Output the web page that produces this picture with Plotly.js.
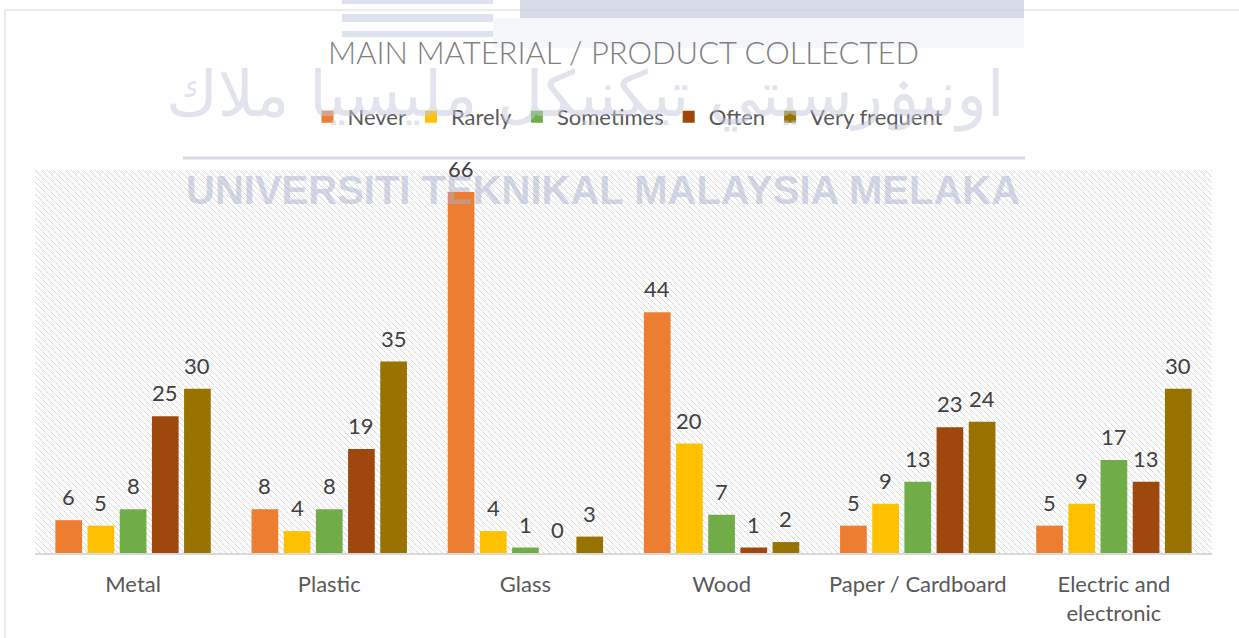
<!DOCTYPE html>
<html>
<head>
<meta charset="utf-8">
<script src="https://cdn.plot.ly/plotly-3.0.1.min.js"></script>
<style>
  html, body { margin: 0; padding: 0; background: #ffffff; }
  #chart { width: 1239px; height: 638px; }
</style>
</head>
<body>
<div id="chart"></div>
<script>
// ---- data ----
const categories = ["Metal", "Plastic", "Glass", "Wood", "Paper / Cardboard", "Electric and<br>electronic"];
const seriesNames = ["Never", "Rarely", "Sometimes", "Often", "Very frequent"];
const never        = [6, 8, 66, 44, 5, 5];
const rarely       = [5, 4, 4, 20, 9, 9];
const sometimes    = [8, 8, 1, 7, 13, 17];
const often        = [25, 19, 0, 1, 23, 13];
const veryFrequent = [30, 35, 3, 2, 24, 30];
const chartTitle = "MAIN MATERIAL / PRODUCT COLLECTED";
const watermarkLatin = "UNIVERSITI TEKNIKAL MALAYSIA MELAKA";
const watermarkJawi = "اونيۏرسيتي تيكنيكل مليسيا ملاك";

const seriesValues = [never, rarely, sometimes, often, veryFrequent];
const colors = ["#ED7D31", "#FFC000", "#70AD47", "#9E480E", "#997300"];

// ---- geometry helpers (pixel -> paper) ----
const W = 1239, H = 638;
const M = { l: 35, r: 27, t: 170, b: 85 };
const PW = W - M.l - M.r, PH = H - M.t - M.b;
const px = x => (x - M.l) / PW;
const py = y => (H - M.b - y) / PH;

const BARGAP = 0.18;
const nSeries = seriesNames.length;
const slot = (1 - BARGAP) / nSeries;

// ---- hatch background ----
const hatchSvg =
  '<svg xmlns="http://www.w3.org/2000/svg" width="' + PW + '" height="' + PH + '">' +
  '<defs><pattern id="h" patternUnits="userSpaceOnUse" width="6" height="6">' +
  '<path d="M-1,-1 L7,7 M-4,2 L2,8 M4,-2 L8,2" stroke="#d6d6d6" stroke-width="1"/>' +
  '</pattern></defs>' +
  '<rect width="100%" height="100%" fill="url(#h)"/></svg>';
const hatchUri = "data:image/svg+xml;charset=utf-8," + encodeURIComponent(hatchSvg);

const FONT = "Lato, 'Open Sans', sans-serif";

const traces = seriesNames.map((name, i) => ({
  type: "bar",
  name: name,
  x: categories,
  y: seriesValues[i],
  marker: { color: colors[i] },
  hoverinfo: "x+y+name"
}));

// data labels placed above each bar (positions from the data via the axes)
const labelAnnotations = [];
seriesValues.forEach((vals, i) => {
  vals.forEach((v, j) => {
    labelAnnotations.push({
      xref: "x", yref: "y",
      x: j + (i - (nSeries - 1) / 2) * slot,
      y: v,
      text: String(v),
      showarrow: false,
      xanchor: "center", yanchor: "bottom",
      yshift: 8,
      font: { family: FONT, size: 22, color: "#404040" }
    });
  });
});

const layout = {
  width: W, height: H,
  margin: M,
  paper_bgcolor: "#ffffff",
  plot_bgcolor: "rgba(0,0,0,0)",
  font: { family: FONT, color: "#595959" },
  title: {
    text: chartTitle,
    font: { family: FONT, size: 31, color: "#808080", weight: 300 },
    x: 0.5, xanchor: "center", xref: "paper",
    y: 1 - 53 / H, yanchor: "middle", yref: "container"
  },
  barmode: "group",
  bargap: BARGAP,
  bargroupgap: 0.17,
  showlegend: true,
  legend: {
    orientation: "h",
    x: px(628), xanchor: "center",
    y: py(117), yanchor: "middle",
    font: { family: FONT, size: 22, color: "#595959" },
    itemwidth: 30,
    traceorder: "normal",
    bgcolor: "rgba(0,0,0,0)"
  },
  xaxis: {
    type: "category",
    showgrid: false,
    zeroline: false,
    showline: true,
    linecolor: "#d9d9d9",
    linewidth: 1.5,
    ticks: "",
    ticklabelstandoff: 11,
    tickfont: { family: FONT, size: 22, color: "#595959" },
    automargin: false
  },
  yaxis: {
    range: [0, 70],
    visible: false,
    showgrid: false,
    zeroline: false,
    fixedrange: true
  },
  images: [{
    source: hatchUri,
    xref: "paper", yref: "paper",
    x: 0, y: 1, sizex: 1, sizey: 1,
    xanchor: "left", yanchor: "top",
    sizing: "stretch",
    layer: "below"
  }],
  shapes: [
    // chart frame
    { type: "rect", xref: "paper", yref: "paper",
      x0: px(5), x1: px(1260), y0: py(660), y1: py(10),
      line: { color: "#d9d9d9", width: 1 }, fillcolor: "rgba(0,0,0,0)", layer: "below" },
    // watermark logo pieces (top)
    { type: "rect", xref: "paper", yref: "paper",
      x0: px(493), x1: px(1024), y0: py(48), y1: py(18),
      line: { width: 0 }, fillcolor: "rgba(225,228,238,0.35)", layer: "above" },
    { type: "rect", xref: "paper", yref: "paper",
      x0: px(520), x1: px(1024), y0: py(18), y1: py(-2),
      line: { width: 0 }, fillcolor: "rgba(200,206,226,0.75)", layer: "above" },
    { type: "rect", xref: "paper", yref: "paper",
      x0: px(342), x1: px(493), y0: py(4), y1: py(-2),
      line: { width: 0 }, fillcolor: "rgba(200,206,226,0.6)", layer: "above" },
    { type: "rect", xref: "paper", yref: "paper",
      x0: px(342), x1: px(493), y0: py(22), y1: py(14),
      line: { width: 0 }, fillcolor: "rgba(200,206,226,0.6)", layer: "above" },
    { type: "rect", xref: "paper", yref: "paper",
      x0: px(342), x1: px(493), y0: py(37), y1: py(31),
      line: { width: 0 }, fillcolor: "rgba(200,206,226,0.6)", layer: "above" },
    // watermark rule
    { type: "line", xref: "paper", yref: "paper",
      x0: px(183), x1: px(1025), y0: py(158), y1: py(158),
      line: { color: "rgba(205,209,220,0.8)", width: 3 }, layer: "above" }
  ],
  annotations: [
    { text: watermarkJawi, xref: "paper", yref: "paper",
      x: px(585), y: py(95), xanchor: "center", yanchor: "middle",
      showarrow: false, opacity: 0.5,
      font: { family: "'DejaVu Sans', sans-serif", size: 63, color: "#c5cadb" } },
    { text: watermarkLatin, xref: "paper", yref: "paper",
      x: px(603), y: py(190), xanchor: "center", yanchor: "middle",
      showarrow: false, opacity: 0.5,
      font: { family: "'Liberation Sans', Arial, sans-serif", size: 40, color: "#a9b0cc", weight: 700 } }
  ].concat(labelAnnotations)
};

Plotly.newPlot("chart", traces, layout, { displayModeBar: false, staticPlot: true });
</script>
</body>
</html>
